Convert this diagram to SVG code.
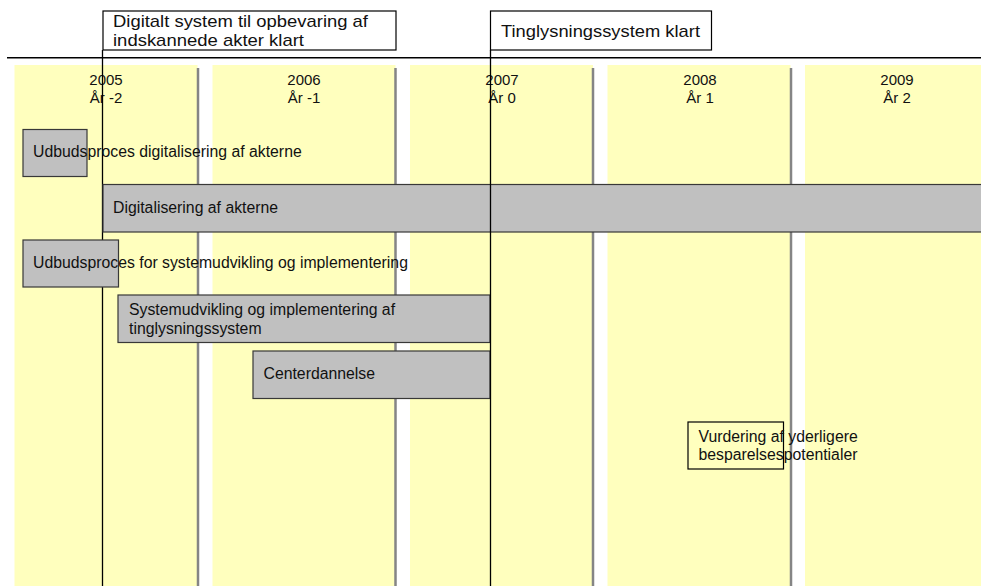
<svg xmlns="http://www.w3.org/2000/svg" width="981" height="586" viewBox="0 0 981 586">
<style>
.col{fill:#FFFFBE}
.sep{stroke:#858585;stroke-width:2.5}
.bar{fill:#C0C0C0;stroke:#383838;stroke-width:1.2}
.box{fill:#fff;stroke:#000;stroke-width:1.2}
.t{font-family:"Liberation Sans",Arial,sans-serif;font-size:15.8px;fill:#111}
.yr{font-family:"Liberation Sans",Arial,sans-serif;font-size:15px;fill:#111;text-anchor:middle}
.big{font-family:"Liberation Sans",Arial,sans-serif;font-size:17px;fill:#111}
.ms{stroke:#000;stroke-width:1.3}
</style>
<rect width="981" height="586" fill="#fff"/>
<g id="timeline">
<rect class="col" x="14.5" y="65" width="183" height="521"/>
<rect class="col" x="212.5" y="65" width="183" height="521"/>
<rect class="col" x="410" y="65" width="183" height="521"/>
<rect class="col" x="607.5" y="65" width="183" height="521"/>
<rect class="col" x="805" y="65" width="176" height="521"/>
<line class="sep" x1="198" y1="68" x2="198" y2="586"/>
<line class="sep" x1="395.5" y1="68" x2="395.5" y2="586"/>
<line class="sep" x1="593" y1="68" x2="593" y2="586"/>
<line class="sep" x1="791" y1="68" x2="791" y2="586"/>
<line x1="7" y1="57.7" x2="981" y2="57.7" stroke="#000" stroke-width="1.5"/>
<text class="yr" x="106" y="85">2005</text><text class="yr" x="106" y="103">År -2</text>
<text class="yr" x="304" y="85">2006</text><text class="yr" x="304" y="103">År -1</text>
<text class="yr" x="502" y="85">2007</text><text class="yr" x="502" y="103">År 0</text>
<text class="yr" x="700" y="85">2008</text><text class="yr" x="700" y="103">År 1</text>
<text class="yr" x="897" y="85">2009</text><text class="yr" x="897" y="103">År 2</text>
</g>
<g id="connectors">
<line class="ms" x1="102.5" y1="50" x2="102.5" y2="586"/>
</g>
<g id="m1">
<rect class="box" x="103" y="11" width="293" height="39"/>
<text class="big" x="113" y="27" textLength="255" lengthAdjust="spacingAndGlyphs">Digitalt system til opbevaring af</text>
<text class="big" x="113" y="46" textLength="191" lengthAdjust="spacingAndGlyphs">indskannede akter klart</text>
</g>
<g id="m2">
<rect class="box" x="490.5" y="11" width="221" height="39"/>
<text class="big" x="501" y="36.5" textLength="199" lengthAdjust="spacingAndGlyphs">Tinglysningssystem klart</text>
</g>
<g id="bar1">
<rect class="bar" x="23" y="129.5" width="64" height="47"/>
<text class="t" x="33" y="157">Udbudsproces digitalisering af akterne</text>
</g>
<g id="bar2">
<rect class="bar" x="103" y="184.5" width="880" height="47.5"/>
<text class="t" x="113" y="212.5">Digitalisering af akterne</text>
</g>
<g id="bar3">
<rect class="bar" x="23" y="240" width="95.5" height="47"/>
<text class="t" x="33" y="267.5">Udbudsproces for systemudvikling og implementering</text>
</g>
<g id="bar4">
<rect class="bar" x="118" y="295" width="372" height="47.5"/>
<text class="t" x="129" y="315">Systemudvikling og implementering af</text>
<text class="t" x="129" y="333.5">tinglysningssystem</text>
</g>
<g id="bar5">
<rect class="bar" x="253" y="351" width="237" height="47.5"/>
<text class="t" x="263.5" y="379">Centerdannelse</text>
</g>
<g id="connectors-top">
<line class="ms" x1="490.5" y1="50" x2="490.5" y2="586"/>
</g>
<g id="task6">
<rect x="688" y="422" width="95.5" height="47" fill="none" stroke="#000" stroke-width="1.2"/>
<text class="t" x="698.5" y="441.5">Vurdering af yderligere</text>
<text class="t" x="698.5" y="459.5">besparelsespotentialer</text>
</g>
</svg>
